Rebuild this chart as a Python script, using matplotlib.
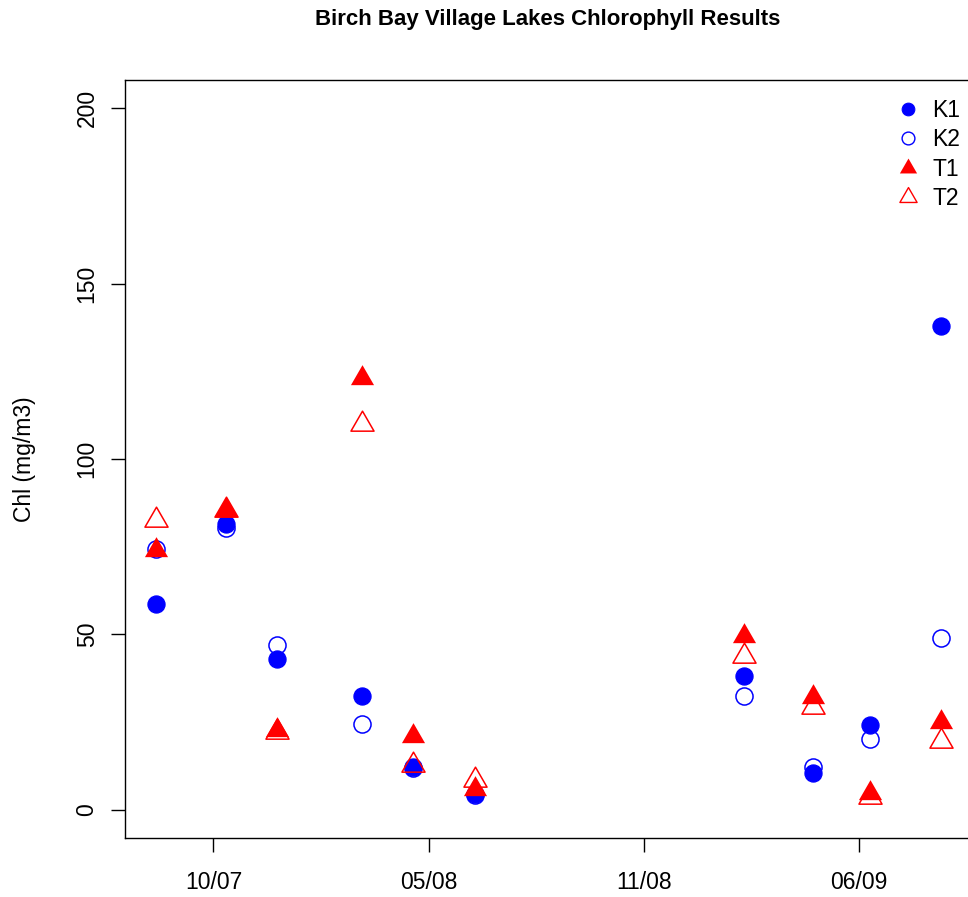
import numpy as np
import pandas as pd
import matplotlib
matplotlib.use("Agg")
import matplotlib.pyplot as plt
import matplotlib.dates as mdates
from matplotlib.path import Path
from matplotlib.lines import Line2D

plt.rcParams['font.family'] = ['Liberation Sans', 'DejaVu Sans']

# Sampling dates and chlorophyll concentrations (mg/m3) per station
sample_dates = ["2007-08-22", "2007-10-26", "2007-12-12", "2008-02-29", "2008-04-17",
                "2008-06-13", "2009-02-18", "2009-04-23", "2009-06-15", "2009-08-20"]
k1 = [58.7, 81.6, 42.9, 32.5, 12.2, 4.5, 38.3, 10.4, 24.2, 137.9]
k2 = [74.4, 80.4, 47.1, 24.4, 12.0, 4.3, 32.6, 12.3, 20.1, 49.0]
t1 = [74.1, 85.5, 22.9, 123.1, 21.2, 5.9, 49.6, 32.1, 4.7, 25.1]
t2 = [82.6, 85.5, 22.3, 110.1, 12.8, 8.5, 43.9, 29.3, 3.8, 19.7]

tick_dates = ["2007-10-14", "2008-05-01", "2008-11-17", "2009-06-05"]
y_ticks = [0, 50, 100, 150, 200]

dates = pd.to_datetime(sample_dates)
ticks = pd.to_datetime(tick_dates)

# equilateral triangle centred on its centroid
tri = Path([(0, 1), (0.8660254, -0.5), (-0.8660254, -0.5), (0, 1)],
           [Path.MOVETO, Path.LINETO, Path.LINETO, Path.CLOSEPOLY])

W, H, DPI = 968, 897, 100
fig = plt.figure(figsize=(W / DPI, H / DPI), dpi=DPI)
ax = fig.add_axes([125 / W, 1 - 838 / H, (972 - 125) / W, (838 - 80) / H])

blue, red = "#0000FF", "#FF0000"
circ_ms, tri_ms = 12.3, 19.2
ax.plot(dates, k1, ls="none", marker="o", ms=circ_ms, mfc=blue, mec=blue, mew=0.9)
ax.plot(dates, k2, ls="none", marker="o", ms=circ_ms, mfc="none", mec=blue, mew=1.1)
ax.plot(dates, t1, ls="none", marker=tri, ms=tri_ms, mfc=red, mec=red, mew=0.0)
ax.plot(dates, t2, ls="none", marker=tri, ms=tri_ms, mfc="none", mec=red, mew=1.1)

ax.margins(x=0.04)
ax.set_ylim(-8, 208)
ax.set_yticks(y_ticks)
ax.set_yticklabels([str(v) for v in y_ticks], rotation=90, va="center")
ax.set_xticks(mdates.date2num(ticks))
ax.xaxis.set_major_formatter(mdates.DateFormatter("%m/%y"))

ax.tick_params(axis="both", direction="out", length=10, width=1.0, labelsize=16.5, color="black")
ax.tick_params(axis="x", pad=14)
ax.tick_params(axis="y", pad=9)
for s in ax.spines.values():
    s.set_linewidth(1.0)

fig.text(25 / W, 1 - 459 / H, "Chl (mg/m3)", rotation=90, ha="center", va="center", fontsize=16.5)
fig.text(548 / W, 1 - 19 / H, "Birch Bay Village Lakes Chlorophyll Results",
         ha="center", va="center", fontsize=16, fontweight="bold")

handles = [
    Line2D([], [], ls="none", marker="o", ms=9.2, mfc=blue, mec=blue, mew=0.7),
    Line2D([], [], ls="none", marker="o", ms=9.2, mfc="none", mec=blue, mew=1.0),
    Line2D([], [], ls="none", marker=tri, ms=14.3, mfc=red, mec=red, mew=0.0),
    Line2D([], [], ls="none", marker=tri, ms=14.3, mfc="none", mec=red, mew=1.0),
]
fig.legend(handles, ["K1", "K2", "T1", "T2"], loc="upper left",
           bbox_to_anchor=(897 / W, 1 - 99 / H), bbox_transform=fig.transFigure,
           frameon=False, fontsize=16.5, borderpad=0, borderaxespad=0,
           handlelength=1.0, handletextpad=0.55, labelspacing=0.28)

fig.savefig("out.png", dpi=DPI)
